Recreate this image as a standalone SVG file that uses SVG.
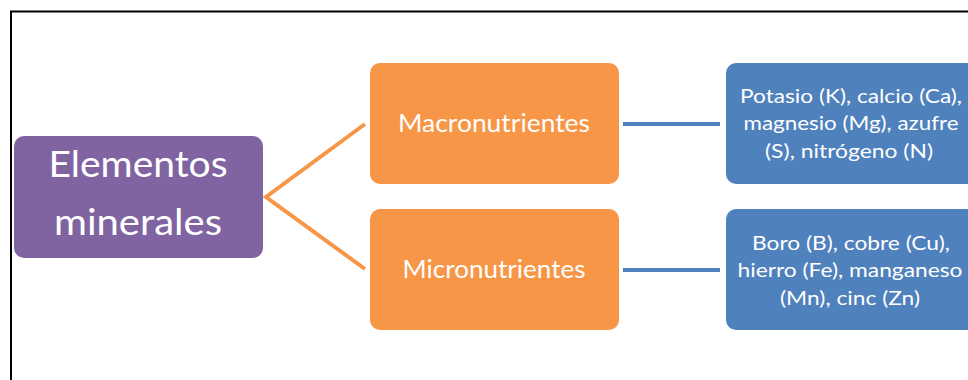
<svg xmlns="http://www.w3.org/2000/svg" width="968" height="380" viewBox="0 0 968 380">
<style>
.t{font-family:Lato,"Open Sans","Liberation Sans",sans-serif;fill:#fff;text-anchor:middle}
.big{font-size:37px}
.mid{font-size:25px}
.sm{font-size:20px}
.oc{stroke:#F79646;stroke-width:4;fill:none}
.bc{stroke:#4F81BD;stroke-width:4;fill:none}
</style>
<rect width="968" height="380" fill="#fff"/>
<path d="M11,380 V11.5 H968" fill="none" stroke="#000" stroke-width="2"/>
<g id="connectors">
<polyline class="oc" points="365,124 266,197 365,269"/>
<line class="bc" x1="623" y1="124" x2="720" y2="124"/>
<line class="bc" x1="623" y1="270" x2="720" y2="270"/>
</g>
<g id="elementos">
<rect x="14" y="136" width="249" height="122" rx="10" fill="#8064A2"/>
<text class="t big" x="138" y="177" textLength="179" lengthAdjust="spacingAndGlyphs">Elementos</text>
<text class="t big" x="138" y="235" textLength="168" lengthAdjust="spacingAndGlyphs">minerales</text>
</g>
<g id="macro">
<rect x="370" y="63" width="249" height="121" rx="10" fill="#F79646"/>
<text class="t mid" x="494" y="132" textLength="192" lengthAdjust="spacingAndGlyphs">Macronutrientes</text>
</g>
<g id="micro">
<rect x="370" y="209" width="249" height="121" rx="10" fill="#F79646"/>
<text class="t mid" x="494" y="278" textLength="183" lengthAdjust="spacingAndGlyphs">Micronutrientes</text>
</g>
<g id="macro-list">
<rect x="726" y="63" width="252" height="121" rx="10" fill="#4F81BD"/>
<text class="t sm" x="851" y="103" textLength="222" lengthAdjust="spacingAndGlyphs">Potasio (K), calcio (Ca),</text>
<text class="t sm" x="851" y="130" textLength="215" lengthAdjust="spacingAndGlyphs">magnesio (Mg), azufre</text>
<text class="t sm" x="849" y="158" textLength="168" lengthAdjust="spacingAndGlyphs">(S), nitrógeno (N)</text>
</g>
<g id="micro-list">
<rect x="726" y="209" width="252" height="121" rx="10" fill="#4F81BD"/>
<text class="t sm" x="851" y="250" textLength="198" lengthAdjust="spacingAndGlyphs">Boro (B), cobre (Cu),</text>
<text class="t sm" x="850" y="277" textLength="225" lengthAdjust="spacingAndGlyphs">hierro (Fe), manganeso</text>
<text class="t sm" x="850" y="305" textLength="140" lengthAdjust="spacingAndGlyphs">(Mn), cinc (Zn)</text>
</g>
</svg>
